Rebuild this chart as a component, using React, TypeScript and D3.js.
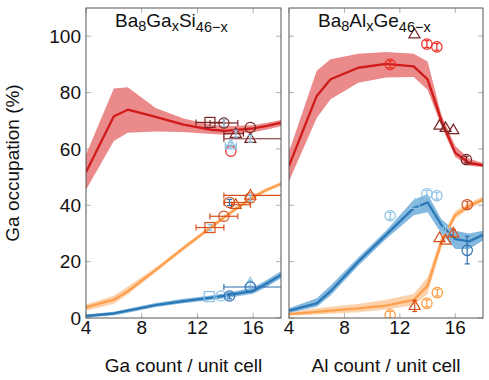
import React from "react";
import * as d3 from "d3";

// ---------- DATA ----------
const X_TICKS = [4, 8, 12, 16];
const Y_TICKS = [0, 20, 40, 60, 80, 100];
const X_DOMAIN = [4, 18];
const Y_DOMAIN = [0, 110];

// Left panel: Ba8GaxSi46-x (computed curves)
const GA_X = [4, 6, 7, 9, 11, 13, 14, 16, 17, 18];
const GA_RED = [51.7, 71.6, 73.9, 71.4, 68.6, 66.8, 66.4, 67.3, 68.2, 69.3];
const GA_RED_HI = [58, 81.4, 81.9, 74.5, 70.8, 68.6, 68, 68.4, 69.3, 70.3];
const GA_RED_LO = [45.5, 62.8, 65.7, 66.2, 66, 65.3, 65, 65.9, 66.9, 68];
const GA_ORANGE = [3.8, 6.5, 9.5, 17, 24.8, 32.3, 36, 43, 45.5, 47.6];
const GA_ORANGE_HI = [4.8, 7.9, 11.2, 17.9, 25.6, 33, 36.7, 43.7, 46.2, 48.3];
const GA_ORANGE_LO = [2.6, 5.1, 8.3, 16.2, 24, 31.6, 35.3, 42.3, 44.8, 46.9];
const GA_BLUE = [0.7, 1.6, 2.6, 4.6, 6, 7.2, 7.9, 9.6, 12.3, 15.3];
const GA_BLUE_HI = [1.2, 2.2, 3.3, 5.3, 6.8, 8, 8.8, 10.8, 13.6, 16.6];
const GA_BLUE_LO = [0.3, 1.0, 1.9, 3.9, 5.2, 6.4, 7.0, 8.6, 11.1, 14.1];

// Right panel: Ba8AlxGe46-x (computed curves)
const AL_X = [4, 6, 7, 9, 11, 13, 14, 15, 16, 17, 18];
const AL_RED = [54, 78.8, 84.7, 88.8, 90.2, 89.3, 84.7, 70, 58.6, 55, 54.2];
const AL_RED_HI = [59, 87.7, 91.8, 93.8, 94.4, 93.8, 91, 72, 61, 56.5, 55];
const AL_RED_LO = [48.5, 71, 77.6, 83.5, 85.3, 85.5, 81, 68, 57, 54, 53.6];
const AL_ORANGE = [1.4, 2.2, 2.6, 3.4, 4.4, 6.4, 11.5, 27, 36.5, 39.8, 42];
const AL_ORANGE_HI = [2, 3.5, 4, 5, 6.5, 8.5, 14.5, 29, 38, 41, 43];
const AL_ORANGE_LO = [0.8, 1.2, 1.5, 2, 3, 4.5, 8.5, 25, 35.3, 38.8, 41.2];
const AL_BLUE = [2.6, 5.2, 9.5, 20, 29.5, 39, 41, 33, 28, 27.2, 29.5];
const AL_BLUE_HI = [3.5, 7, 11.5, 21.5, 31, 42, 44, 35, 31, 30, 31];
const AL_BLUE_LO = [1.8, 4, 8, 18.5, 28, 36.5, 37.5, 30, 24.5, 24.5, 27.5];

// Experimental points: [x, y, xLow, xHigh, yLow, yHigh] (null = no bar)
type Pt = [number, number, number | null, number | null, number | null, number | null];

// Left panel experiments
const GA_DKRED_SQ: Pt[] = [[12.9, 69.4, 11.9, 13.9, null, null]];
const GA_DKRED_CI: Pt[] = [[13.9, 69.2, 12.9, 14.9, null, null], [15.8, 67.6, null, null, null, null]];
const GA_DKRED_TR: Pt[] = [[14.75, 65.4, 13.9, 15.3, null, null], [15.8, 63.6, 13.9, 20, null, null]];
const GA_RED_CI: Pt[] = [[14.4, 59.2, null, null, null, null]];
const GA_LTBLUE_TR_HI: Pt[] = [[14.4, 61.3, 14.0, 14.8, 60.3, 62.3]];
const GA_LTBLUE_ERR_HI: Pt[] = [[13.9, 69.2, null, null, 68.0, 70.4], [14.75, 65.4, null, null, 64.2, 66.6], [15.8, 63.6, null, null, 62.4, 64.8]];
const GA_DKOR_SQ: Pt[] = [[12.9, 32.1, 11.9, 13.9, null, null]];
const GA_DKOR_CI: Pt[] = [[13.9, 36.1, 12.9, 14.9, null, null], [14.3, 41, 13.9, 15.8, null, null], [15.8, 42.6, null, null, null, null]];
const GA_DKOR_TR: Pt[] = [[14.75, 40.2, 14.45, 15.8, null, null], [15.8, 43.5, 13.9, 20, null, null]];
const GA_LTBLUE_ERR_MID: Pt[] = [[12.9, 32.1, null, null, 31.0, 33.2], [15.8, 42.6, null, null, 41.5, 43.7]];
const GA_DKBLUE_ERR_MID: Pt[] = [[14.3, 41, null, null, 39.9, 42.1]];
const GA_LTBLUE_SQ: Pt[] = [[12.85, 7.6, null, null, null, null]];
const GA_LTBLUE_CI: Pt[] = [[13.7, 7.8, null, null, null, null]];
const GA_LTBLUE_TR: Pt[] = [[15.8, 12.3, null, null, 11.3, 13.3]];
const GA_DKBLUE_CI: Pt[] = [[14.3, 7.8, null, null, 6.8, 8.8], [15.8, 11, 13.9, 20, null, null]];

// Right panel experiments
const AL_DKRED_TR: Pt[] = [[13.05, 100.7, null, null, null, null], [14.86, 68.3, null, null, null, null], [15.3, 67.5, null, null, null, null], [15.86, 66.7, null, null, null, null]];
const AL_DKRED_CI: Pt[] = [[16.8, 56.2, null, null, 55.0, 57.4]];
const AL_RED_CI: Pt[] = [[11.3, 90, null, null, 88.8, 91.2], [13.95, 97.2, null, null, 96.0, 98.4], [14.67, 96.2, null, null, 95.0, 97.4]];
const AL_LTBLUE_CI: Pt[] = [[11.3, 36.3, null, null, 35.1, 37.5], [13.95, 44.1, null, null, 42.9, 45.3], [14.67, 43.4, null, null, 42.2, 44.6]];
const AL_LTBLUE_TR: Pt[] = [[13.1, 40.2, null, null, null, null], [15.3, 31.3, null, null, 30.0, 32.6]];
const AL_DKBLUE_CI: Pt[] = [[16.86, 24, null, null, 19.2, 29]];
const AL_DKOR_TR: Pt[] = [[14.86, 28.4, null, null, null, null], [15.3, 27.5, null, null, null, null], [15.86, 30.1, null, null, 28.9, 31.3], [13.07, 4.3, null, null, 2.3, 6.3]];
const AL_DKOR_CI: Pt[] = [[16.86, 40.2, null, null, 39.0, 41.4]];
const AL_LTOR_CI: Pt[] = [[11.3, 1.1, null, null, 0, 2.3], [13.95, 5.2, null, null, 4.0, 6.4], [14.7, 9.0, null, null, 7.8, 10.2]];

// ---------- STYLE ----------
const C = {
  redLine: "#d11a1a",
  redBand: "#ea8a8a",
  orLine: "#fd9f4d",
  orBand: "#fdd2ab",
  blLine: "#2a78b6",
  blBand: "#84b9df",
  dkRed: "#7a2424",
  red: "#ec2a22",
  dkOr: "#d8511c",
  ltOr: "#fd9a3e",
  ltBlue: "#8ec2e4",
  dkBlue: "#2c6fb0",
};

const FONT = "'Liberation Sans', Arial, Helvetica, sans-serif";
const H = 380;
const W = 489;
const TOP = 8;
const BOTTOM = 318;

type Curve = { x: number[]; y: number[]; hi: number[]; lo: number[]; line: string; band: string };
type Series = { pts: Pt[]; shape: "circle" | "square" | "triangle" | "none"; color: string };

function Marker({ shape, cx, cy, color }: { shape: string; cx: number; cy: number; color: string }) {
  const sw = 1.2;
  if (shape === "circle") return <circle cx={cx} cy={cy} r={5.2} fill="none" stroke={color} strokeWidth={sw} />;
  if (shape === "square") return <rect x={cx - 5} y={cy - 5} width={10} height={10} fill="none" stroke={color} strokeWidth={sw} />;
  if (shape === "triangle") {
    const s = 11;
    const h = (s * Math.sqrt(3)) / 2;
    const p = `${cx},${cy - h * 0.62} ${cx - s / 2},${cy + h * 0.38} ${cx + s / 2},${cy + h * 0.38}`;
    return <polygon points={p} fill="none" stroke={color} strokeWidth={sw} />;
  }
  return null;
}

function Panel({
  x0, x1, curves, series, title, sub1, mid, sub2, xLabel, showYLabels,
}: any) {
  const xs = d3.scaleLinear().domain(X_DOMAIN).range([x0, x1]);
  const ys = d3.scaleLinear().domain(Y_DOMAIN).range([BOTTOM, TOP]);
  const clipId = `clip-${Math.round(x0)}`;
  const tickLen = 5;
  const tickColor = "#b0b0b0";
  return (
    <g>
      <defs>
        <clipPath id={clipId}>
          <rect x={x0} y={TOP} width={x1 - x0} height={BOTTOM - TOP} />
        </clipPath>
      </defs>
      {X_TICKS.map((t) => (
        <g key={"xt" + t}>
          <line x1={xs(t)} x2={xs(t)} y1={BOTTOM} y2={BOTTOM - tickLen} stroke={tickColor} />
          <line x1={xs(t)} x2={xs(t)} y1={TOP} y2={TOP + tickLen} stroke={tickColor} />
          <text x={xs(t)} y={334} textAnchor="middle" fontSize={19} fontFamily={FONT} fill="#111">{t}</text>
        </g>
      ))}
      {Y_TICKS.map((t) => (
        <g key={"yt" + t}>
          <line x1={x0} x2={x0 + tickLen} y1={ys(t)} y2={ys(t)} stroke={tickColor} />
          <line x1={x1} x2={x1 - tickLen} y1={ys(t)} y2={ys(t)} stroke={tickColor} />
          {showYLabels && (
            <text x={81} y={ys(t) + 6.8} textAnchor="end" fontSize={19} fontFamily={FONT} fill="#111">{t}</text>
          )}
        </g>
      ))}
      <g clipPath={`url(#${clipId})`}>
        {curves.map((c: Curve, i: number) => {
          const idx = c.x.map((_, j) => j);
          const area = d3.area<number>().x((j) => xs(c.x[j])).y0((j) => ys(c.lo[j])).y1((j) => ys(c.hi[j]));
          return <path key={"b" + i} d={area(idx) || ""} fill={c.band} stroke="none" />;
        })}
        {curves.map((c: Curve, i: number) => {
          const idx = c.x.map((_, j) => j);
          const line = d3.line<number>().x((j) => xs(c.x[j])).y((j) => ys(c.y[j]));
          return <path key={"l" + i} d={line(idx) || ""} fill="none" stroke={c.line} strokeWidth={2.3} strokeLinejoin="round" />;
        })}
        {series.map((s: Series, i: number) => (
          <g key={"s" + i}>
            {s.pts.map((p, j) => {
              const cx = xs(p[0]);
              const cy = ys(p[1]);
              const out: any[] = [];
              if (p[2] != null && p[3] != null) {
                const a = xs(p[2]);
                const b = xs(p[3]);
                out.push(<line key="h" x1={a} x2={b} y1={cy} y2={cy} stroke={s.color} strokeWidth={1.2} />);
                out.push(<line key="hc1" x1={a} x2={a} y1={cy - 3} y2={cy + 3} stroke={s.color} strokeWidth={1.2} />);
                out.push(<line key="hc2" x1={b} x2={b} y1={cy - 3} y2={cy + 3} stroke={s.color} strokeWidth={1.2} />);
              }
              if (p[4] != null && p[5] != null) {
                const a = ys(p[4]);
                const b = ys(p[5]);
                out.push(<line key="v" x1={cx} x2={cx} y1={a} y2={b} stroke={s.color} strokeWidth={1.2} />);
                out.push(<line key="vc1" x1={cx - 2.5} x2={cx + 2.5} y1={a} y2={a} stroke={s.color} strokeWidth={1.2} />);
                out.push(<line key="vc2" x1={cx - 2.5} x2={cx + 2.5} y1={b} y2={b} stroke={s.color} strokeWidth={1.2} />);
              }
              out.push(<Marker key="m" shape={s.shape} cx={cx} cy={cy} color={s.color} />);
              return <g key={j}>{out}</g>;
            })}
          </g>
        ))}
      </g>
      <rect x={x0} y={TOP} width={x1 - x0} height={BOTTOM - TOP} fill="none" stroke="#555" strokeWidth={1} />
      <text x={x0 + 29} y={27} fontSize={19} fontFamily={FONT} fill="#111">
        {title}
        <tspan fontSize={14.5} dy={4}>{sub1}</tspan>
        <tspan dy={-4}>{mid}</tspan>
        <tspan fontSize={14.5} dy={4}>x</tspan>
        <tspan dy={-4}>{sub2}</tspan>
        <tspan fontSize={14.5} dy={5}>46−x</tspan>
      </text>
      <text x={(x0 + x1) / 2} y={372} textAnchor="middle" fontSize={19} fontFamily={FONT} fill="#111">{xLabel}</text>
    </g>
  );
}

export default function App() {
  const gaCurves: Curve[] = [
    { x: GA_X, y: GA_RED, hi: GA_RED_HI, lo: GA_RED_LO, line: C.redLine, band: C.redBand },
    { x: GA_X, y: GA_ORANGE, hi: GA_ORANGE_HI, lo: GA_ORANGE_LO, line: C.orLine, band: C.orBand },
    { x: GA_X, y: GA_BLUE, hi: GA_BLUE_HI, lo: GA_BLUE_LO, line: C.blLine, band: C.blBand },
  ];
  const alCurves: Curve[] = [
    { x: AL_X, y: AL_RED, hi: AL_RED_HI, lo: AL_RED_LO, line: C.redLine, band: C.redBand },
    { x: AL_X, y: AL_ORANGE, hi: AL_ORANGE_HI, lo: AL_ORANGE_LO, line: C.orLine, band: C.orBand },
    { x: AL_X, y: AL_BLUE, hi: AL_BLUE_HI, lo: AL_BLUE_LO, line: C.blLine, band: C.blBand },
  ];
  const gaSeries: Series[] = [
    { pts: GA_DKRED_SQ, shape: "square", color: C.dkRed },
    { pts: GA_DKRED_CI, shape: "circle", color: C.dkRed },
    { pts: GA_DKRED_TR, shape: "triangle", color: C.dkRed },
    { pts: GA_RED_CI, shape: "circle", color: C.red },
    { pts: GA_LTBLUE_TR_HI, shape: "triangle", color: C.ltBlue },
    { pts: GA_LTBLUE_ERR_HI, shape: "none", color: C.ltBlue },
    { pts: GA_DKOR_SQ, shape: "square", color: C.dkOr },
    { pts: GA_DKOR_CI, shape: "circle", color: C.dkOr },
    { pts: GA_DKOR_TR, shape: "triangle", color: C.dkOr },
    { pts: GA_LTBLUE_ERR_MID, shape: "none", color: C.ltBlue },
    { pts: GA_DKBLUE_ERR_MID, shape: "none", color: C.dkBlue },
    { pts: GA_LTBLUE_SQ, shape: "square", color: C.ltBlue },
    { pts: GA_LTBLUE_CI, shape: "circle", color: C.ltBlue },
    { pts: GA_LTBLUE_TR, shape: "triangle", color: C.ltBlue },
    { pts: GA_DKBLUE_CI, shape: "circle", color: C.dkBlue },
  ];
  const alSeries: Series[] = [
    { pts: AL_DKRED_TR, shape: "triangle", color: C.dkRed },
    { pts: AL_DKRED_CI, shape: "circle", color: C.dkRed },
    { pts: AL_RED_CI, shape: "circle", color: C.red },
    { pts: AL_LTBLUE_CI, shape: "circle", color: C.ltBlue },
    { pts: AL_LTBLUE_TR, shape: "triangle", color: C.ltBlue },
    { pts: AL_DKBLUE_CI, shape: "circle", color: C.dkBlue },
    { pts: AL_DKOR_TR, shape: "triangle", color: C.dkOr },
    { pts: AL_DKOR_CI, shape: "circle", color: C.dkOr },
    { pts: AL_LTOR_CI, shape: "circle", color: C.ltOr },
  ];
  return (
    <svg width={W} height={H} style={{ position: "absolute", left: 0, top: 0, background: "#fff" }}>
      <rect x={0} y={0} width={W} height={H} fill="#fff" />
      <Panel x0={86} x1={281} curves={gaCurves} series={gaSeries} title="Ba" sub1="8" mid="Ga" sub2="Si" xLabel="Ga count / unit cell" showYLabels={true} />
      <Panel x0={289} x1={483} curves={alCurves} series={alSeries} title="Ba" sub1="8" mid="Al" sub2="Ge" xLabel="Al count / unit cell" showYLabels={false} />
      <text transform="translate(19,163) rotate(-90)" textAnchor="middle" fontSize={19} fontFamily={FONT} fill="#111">Ga occupation (%)</text>
    </svg>
  );
}
